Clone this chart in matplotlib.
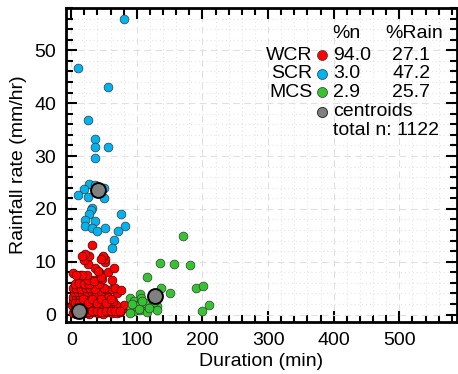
import matplotlib
matplotlib.use("Agg")
import matplotlib.pyplot as plt
from matplotlib.ticker import MultipleLocator

plt.rcParams['font.family'] = ['Liberation Sans', 'DejaVu Sans']

# Rain-event clusters: duration (min) vs. rainfall rate (mm/hr)
wcr_dur = [
    2, 8, 14, 20, 27, 34, 41, 48, 55, 62, 69, 75,
    4, 10, 17, 23, 30, 37, 44, 51, 58, 65, 72, 78, 81,
    1, 6, 12, 19, 26, 33, 40, 47, 54, 61, 68,
    3, 9, 15, 22, 29, 36, 43, 50, 57, 64,
    2, 7, 13, 20, 27, 34, 41, 48, 56,
    4, 10, 17, 24, 31, 38, 45, 52, 62, 70,
    3, 8, 15, 22, 29, 36, 50, 66, 76,
    6, 12, 19, 27, 42, 35, 47, 62, 26, 35,
    2, 14, 24, 42, 56, 16, 46, 7, 36, 25, 41, 65,
    51, 51, 20, 27, 49, 21, 16, 31, 46,
    11, 18, 25, 32, 39, 46, 53, 60, 67, 74,
    5, 12, 18, 25, 32, 39, 46, 53, 60,
]
wcr_rate = [
    0.3, 0.2, 0.4, 0.3, 0.2, 0.4, 0.3, 0.2, 0.4, 0.3, 0.3, 0.4,
    1.0, 1.1, 0.9, 1.0, 1.1, 1.0, 0.9, 1.1, 1.0, 0.9, 1.1, 1.0, 1.9,
    1.8, 1.9, 1.7, 1.8, 1.9, 1.7, 1.8, 1.9, 1.7, 1.8, 1.9,
    2.6, 2.7, 2.5, 2.6, 2.7, 2.5, 2.6, 2.7, 2.5, 2.6,
    3.4, 3.5, 3.3, 3.4, 3.5, 3.3, 3.4, 3.5, 3.3,
    4.2, 4.3, 4.1, 4.2, 4.3, 4.1, 4.2, 4.8, 4.8, 4.1,
    5.0, 5.1, 4.9, 5.0, 5.1, 4.9, 5.0, 5.0, 4.7,
    5.8, 5.9, 5.7, 5.8, 5.8, 6.6, 6.7, 6.6, 6.6, 6.3,
    7.9, 7.5, 7.5, 8.0, 8.0, 7.5, 7.2, 7.4, 8.8, 9.6, 8.2, 8.8,
    9.9, 10.5, 10.4, 11.0, 11.0, 11.5, 11.0, 13.2, 10.6,
    0.6, 0.7, 0.5, 0.6, 0.7, 0.5, 0.6, 0.7, 0.6, 0.7,
    2.2, 2.1, 3.0, 2.2, 3.0, 2.2, 3.0, 2.1, 2.9,
]

scr_dur = [80, 11, 56, 25.5, 35.6, 35.6, 56.5, 35.6,
           27, 20, 11, 25.5, 50.5, 50.5, 36,
           31, 30, 26.4, 20.4, 35.6, 21, 31.6, 40, 52, 75.5, 81.5, 71, 65.6, 61.5]
scr_rate = [56.0, 46.7, 43.1, 36.8, 33.3, 31.7, 31.7, 29.7,
            24.8, 23.7, 22.6, 22.2, 23.9, 22.0, 24.5,
            20.1, 19.7, 19.1, 17.9, 17.7, 16.7, 16.3, 15.9, 16.3, 19.0, 16.8, 15.8, 14.2, 12.6]

mcs_dur = [170, 136, 156, 181, 116, 137, 151, 190, 201, 200, 209.6,
           90, 96, 105, 106, 91, 99, 105, 110, 115.5, 121, 112.5, 131, 130,
           101, 95, 89.6, 98, 104, 126, 118, 108, 93]
mcs_rate = [14.8, 9.8, 9.6, 9.3, 7.2, 5.1, 4.0, 5.1, 5.5, 0.6, 1.75,
            3.1, 2.6, 3.9, 3.1, 1.3, 1.3, 0.9, 1.9, 0.4, 2.3, 2.2, 1.6, 0.8,
            1.9, 0.75, 0.3, 1.6, 1.1, 2.4, 1.2, 2.6, 2.0]

cent_dur = [12, 41, 128]
cent_rate = [0.6, 23.5, 3.5]

groups = ['WCR', 'SCR', 'MCS']
pct_n = ['94.0', '3.0', '2.9']
pct_rain = ['27.1', '47.2', '25.7']
total_n = 1122

c_red = '#ff0000'
c_blue = '#00b4f0'
c_green = '#33c42f'
c_gray = '#808080'
edge = '#3a3a3a'

fig = plt.figure(figsize=(4.58, 3.74), dpi=100)
ax = fig.add_axes([66/458, 1-322/374, 391/458, 314/374])

ax.scatter(wcr_dur, wcr_rate, s=40, c=c_red, edgecolors='#400000', linewidths=0.5, zorder=3)
ax.scatter(scr_dur, scr_rate, s=40, c=c_blue, edgecolors=edge, linewidths=0.5, zorder=3)
ax.scatter(mcs_dur, mcs_rate, s=40, c=c_green, edgecolors=edge, linewidths=0.5, zorder=3)
ax.scatter(cent_dur, cent_rate, s=115, c=c_gray, edgecolors='black', linewidths=1.4, zorder=4)

ax.set_xlim(-8, 588)
ax.set_ylim(-1.4, 58)
ax.xaxis.set_major_locator(MultipleLocator(100))
ax.xaxis.set_minor_locator(MultipleLocator(20))
ax.yaxis.set_major_locator(MultipleLocator(10))
ax.yaxis.set_minor_locator(MultipleLocator(2))

ax.grid(which='major', color='#e0e0e0', linestyle=(0, (6, 4)), linewidth=0.8, zorder=0)
ax.grid(which='minor', color='#e6e6e6', linestyle=(0, (1, 2.5)), linewidth=0.8, zorder=0)
ax.set_axisbelow(True)

fs = 14
for sp in ax.spines.values():
    sp.set_linewidth(2.0)
ax.tick_params(which='both', direction='in', top=True, right=True, width=1.5,
               labelsize=fs, colors='black')
ax.tick_params(which='major', length=8, pad=7)
ax.tick_params(which='minor', length=5)

ax.set_xlabel('Duration (min)', fontsize=fs, labelpad=3)
ax.set_ylabel('Rainfall rate (mm/hr)', fontsize=fs, labelpad=5)

# summary table in the upper right
tx = ax.transAxes
row_y = [0.850, 0.790, 0.732]
colors = [c_red, c_blue, c_green]
ax.text(0.682, 0.920, '%n', transform=tx, fontsize=fs, va='center', ha='left')
ax.text(0.816, 0.920, '%Rain', transform=tx, fontsize=fs, va='center', ha='left')
for y, g, col, pn, pr in zip(row_y, groups, colors, pct_n, pct_rain):
    ax.text(0.630, y, g, transform=tx, fontsize=fs, va='center', ha='right')
    ax.scatter([0.654], [y], s=52, c=col, edgecolors=edge, linewidths=0.5,
               transform=tx, zorder=5, clip_on=False)
    ax.text(0.684, y, pn, transform=tx, fontsize=fs, va='center', ha='left')
    ax.text(0.835, y, pr, transform=tx, fontsize=fs, va='center', ha='left')
ax.scatter([0.654], [0.669], s=52, c=c_gray, edgecolors=edge, linewidths=0.8,
           transform=tx, zorder=5, clip_on=False)
ax.text(0.684, 0.669, 'centroids', transform=tx, fontsize=fs, va='center', ha='left')
ax.text(0.684, 0.611, f'total n: {total_n}', transform=tx, fontsize=fs, va='center', ha='left')

fig.savefig('out.png', dpi=100)
